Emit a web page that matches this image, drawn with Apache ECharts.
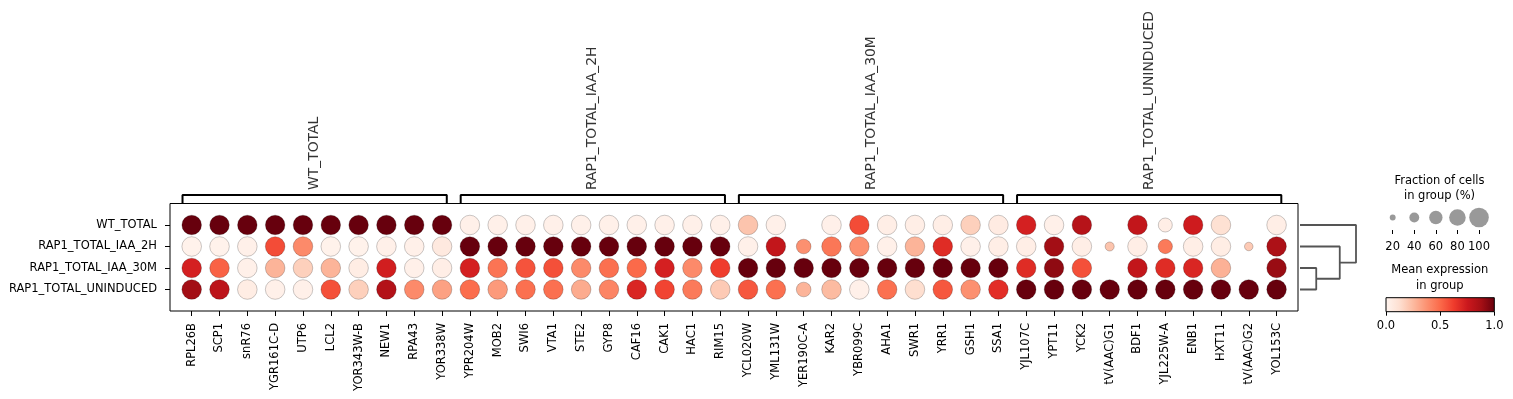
<!DOCTYPE html>
<html>
  <head>
    <meta charset="UTF-8" />
    <title>Dotplot</title>
    <style>
      html, body { margin: 0; padding: 0; background: #fff; }
      #dotplot { width: 1513px; height: 399px; }
    </style>
    <script type="text/javascript" src="https://cdn.jsdelivr.net/npm/echarts@6/dist/echarts.min.js"></script>
  </head>
  <body>
    <div id="dotplot"></div>

    <script>
      var genes = [
        "RPL26B", "SCP1", "snR76", "YGR161C-D", "UTP6", "LCL2", "YOR343W-B", "NEW1", "RPA43", "YOR338W",
        "YPR204W", "MOB2", "SWI6", "VTA1", "STE2", "GYP8", "CAF16", "CAK1", "HAC1", "RIM15",
        "YCL020W", "YML131W", "YER190C-A", "KAR2", "YBR099C", "AHA1", "SWR1", "YRR1", "GSH1", "SSA1",
        "YJL107C", "YPT11", "YCK2", "tV(AAC)G1", "BDF1", "YJL225W-A", "ENB1", "HXT11", "tV(AAC)G2", "YOL153C"
      ];

      var groups = ["WT_TOTAL", "RAP1_TOTAL_IAA_2H", "RAP1_TOTAL_IAA_30M", "RAP1_TOTAL_UNINDUCED"];

      // gene group brackets (first and last column index)
      var groupStart = [0, 10, 20, 30];
      var groupEnd = [9, 19, 29, 39];

      // mean expression in group (0..1), one array per group row
      var exprWT = [1, 1, 1, 1, 1, 1, 1, 1, 1, 1,
        0.03, 0.03, 0.03, 0.03, 0.03, 0.03, 0.03, 0.03, 0.03, 0.03,
        0.22, 0.03, 0, 0.03, 0.58, 0.04, 0.04, 0.04, 0.18, 0.06,
        0.72, 0.03, 0.82, 0, 0.78, 0.04, 0.74, 0.12, 0, 0.04];
      var expr2H = [0.02, 0.02, 0.03, 0.58, 0.4, 0.02, 0.02, 0.03, 0.03, 0.07,
        1, 1, 1, 1, 1, 1, 1, 1, 1, 1,
        0.03, 0.78, 0.38, 0.46, 0.38, 0.03, 0.27, 0.68, 0.03, 0.04,
        0.04, 0.88, 0.04, 0.22, 0.04, 0.45, 0.04, 0.05, 0.2, 0.85];
      var expr30M = [0.72, 0.52, 0.03, 0.27, 0.18, 0.27, 0.05, 0.73, 0.03, 0.04,
        0.72, 0.47, 0.56, 0.57, 0.4, 0.48, 0.5, 0.72, 0.4, 0.62,
        1, 1, 1, 1, 1, 1, 1, 1, 1, 1,
        0.68, 0.92, 0.57, 0, 0.78, 0.68, 0.7, 0.28, 0, 0.9];
      var exprUN = [0.88, 0.8, 0.05, 0.03, 0.03, 0.57, 0.18, 0.83, 0.4, 0.33,
        0.49, 0.35, 0.48, 0.48, 0.3, 0.42, 0.7, 0.6, 0.45, 0.2,
        0.55, 0.48, 0.27, 0.25, 0.03, 0.48, 0.13, 0.55, 0.38, 0.67,
        1, 1, 1, 1, 1, 1, 1, 1, 1, 1];

      // fraction of cells in group expressing the gene (0..1)
      var fracWT = [1, 1, 1, 1, 1, 1, 1, 1, 1, 1,
        1, 1, 1, 1, 1, 1, 1, 1, 1, 1,
        1, 1, 0, 1, 1, 1, 1, 1, 1, 1,
        1, 1, 1, 0, 1, 0.64, 1, 1, 0, 1];
      var frac2H = [1, 1, 1, 1, 1, 1, 1, 1, 1, 1,
        1, 1, 1, 1, 1, 1, 1, 1, 1, 1,
        1, 1, 0.68, 1, 1, 1, 1, 1, 1, 1,
        1, 1, 1, 0.36, 1, 0.66, 1, 1, 0.33, 1];
      var frac30M = [1, 1, 1, 1, 1, 1, 1, 1, 1, 1,
        1, 1, 1, 1, 1, 1, 1, 1, 1, 1,
        1, 1, 1, 1, 1, 1, 1, 1, 1, 1,
        1, 1, 1, 0, 1, 1, 1, 1, 0, 1];
      var fracUN = [1, 1, 1, 1, 1, 1, 1, 1, 1, 1,
        1, 1, 1, 1, 1, 1, 1, 1, 1, 1,
        1, 1, 0.68, 1, 1, 1, 1, 1, 1, 1,
        1, 1, 1, 1, 1, 1, 1, 1, 1, 1];

      // dendrogram of the groups, scipy style: [left, right, height]
      var linkage = [[2, 3, 0.29], [1, 4, 0.71], [0, 5, 1.0]];

      var sizeLegend = [20, 40, 60, 80, 100];
      var colorTicks = [0, 0.5, 1];

      var reds = ["#fff5f0", "#fee0d2", "#fcbba1", "#fc9272", "#fb6a4a", "#ef3b2c", "#cb181d", "#a50f15", "#67000d"];
      var font = "DejaVu Sans";

      function dotSize(f) {
        return 19.6 * Math.pow(f, 0.75);
      }

      var expr = [exprWT, expr2H, expr30M, exprUN];
      var frac = [fracWT, frac2H, frac30M, fracUN];
      var dots = [];
      for (var r = 0; r < groups.length; r++) {
        for (var c = 0; c < genes.length; c++) {
          if (frac[r][c] > 0) dots.push([c, r, expr[r][c], frac[r][c]]);
        }
      }

      // dendrogram segments
      var nodeY = [0, 1, 2, 3];
      var nodeH = [0, 0, 0, 0];
      var dendroSeries = linkage.map(function (l) {
        var a = l[0], b = l[1], h = l[2];
        var seg = [[nodeH[a], nodeY[a]], [h, nodeY[a]], [h, nodeY[b]], [nodeH[b], nodeY[b]]];
        nodeY.push((nodeY[a] + nodeY[b]) / 2);
        nodeH.push(h);
        return {
          type: "line", xAxisIndex: 1, yAxisIndex: 1, data: seg, symbol: "none",
          lineStyle: { color: "#555", width: 1.8 }, silent: true
        };
      });

      var bracketSeries = groupStart.map(function (s, i) {
        var e = groupEnd[i];
        return {
          type: "line", xAxisIndex: 2, yAxisIndex: 2, symbol: "none", silent: true,
          data: [[s - 0.33, 0], [s - 0.33, 1], [e + 0.17, 1], [e + 0.17, 0]],
          lineStyle: { color: "#000", width: 2 }
        };
      });

      var groupLabelData = groupStart.map(function (s, i) {
        return { name: groups[i], value: [(s - 0.33 + groupEnd[i] + 0.17) / 2, 1.6] };
      });

      var gradStops = reds.map(function (col, i) {
        return { offset: i / (reds.length - 1), color: col };
      });

      var cols = [];
      for (var i = 0; i < genes.length; i++) cols.push(i);

      var myChart = echarts.init(document.getElementById("dotplot"), null, { renderer: "canvas" });

      var noZero = { show: false, onZero: false };

      var option = {
        backgroundColor: "#fff",
        animation: false,
        textStyle: { fontFamily: font },
        grid: [
          { left: 170, top: 203.5, width: 1128, height: 107.5, show: true, borderColor: "#000", borderWidth: 1 },
          { left: 1300, top: 203.5, width: 56, height: 107.5 },
          { left: 170, top: 190, width: 1128, height: 13.5 },
          { left: 1381.9, top: 205, width: 107.9, height: 25 },
          {
            left: 1386, top: 297.7, width: 108.3, height: 14, show: true, borderColor: "#000", borderWidth: 1,
            backgroundColor: new echarts.graphic.LinearGradient(0, 0, 1, 0, gradStops)
          }
        ],
        xAxis: [
          {
            gridIndex: 0, type: "value", min: -0.78, max: 39.77, position: "bottom",
            axisLine: noZero, splitLine: { show: false },
            axisTick: { show: true, customValues: cols, length: 5, lineStyle: { color: "#000" } },
            axisLabel: {
              customValues: cols, rotate: 90, margin: 12, fontSize: 11.5, color: "#000", fontFamily: font,
              formatter: function (v) { return genes[Math.round(v)]; }
            }
          },
          { gridIndex: 1, type: "value", min: 0, max: 1, show: false, axisLine: noZero },
          { gridIndex: 2, type: "value", min: -0.78, max: 39.77, show: false, axisLine: noZero },
          {
            gridIndex: 3, type: "value", min: 10, max: 110, position: "bottom",
            axisLine: noZero, splitLine: { show: false },
            axisTick: { show: true, customValues: sizeLegend, length: 4, lineStyle: { color: "#000" } },
            axisLabel: { customValues: sizeLegend, margin: 11, fontSize: 11.5, color: "#000", fontFamily: font }
          },
          {
            gridIndex: 4, type: "value", min: 0, max: 1, position: "bottom",
            axisLine: noZero, splitLine: { show: false },
            axisTick: { show: true, customValues: colorTicks, length: 4, lineStyle: { color: "#000" } },
            axisLabel: {
              customValues: colorTicks, margin: 8, fontSize: 11.5, color: "#000", fontFamily: font,
              formatter: function (v) { return v.toFixed(1); }
            }
          }
        ],
        yAxis: [
          {
            gridIndex: 0, type: "value", inverse: true, min: -1, max: 4, position: "left",
            axisLine: noZero, splitLine: { show: false },
            axisTick: { show: true, customValues: [0, 1, 2, 3], length: 5, lineStyle: { color: "#000" } },
            axisLabel: {
              customValues: [0, 1, 2, 3], margin: 13, fontSize: 11.5, color: "#000", fontFamily: font,
              formatter: function (v) { return groups[Math.round(v)]; }
            }
          },
          { gridIndex: 1, type: "value", inverse: true, min: -1, max: 4, show: false, axisLine: noZero },
          { gridIndex: 2, type: "value", min: 0, max: 1.6, show: false, axisLine: noZero },
          { gridIndex: 3, type: "value", min: 0, max: 1, show: false, axisLine: noZero },
          { gridIndex: 4, type: "value", min: 0, max: 1, show: false, axisLine: noZero }
        ],
        visualMap: {
          show: false, type: "continuous", min: 0, max: 1, dimension: 2, seriesIndex: 0,
          inRange: { color: reds }
        },
        series: [
          {
            type: "scatter", xAxisIndex: 0, yAxisIndex: 0, data: dots, silent: true,
            symbolSize: function (v) { return dotSize(v[3]); },
            itemStyle: { borderColor: "rgba(0,0,0,0.35)", borderWidth: 0.6, opacity: 1 }
          },
          {
            type: "scatter", xAxisIndex: 3, yAxisIndex: 3, silent: true,
            data: sizeLegend.map(function (p) { return [p, 0.5]; }),
            symbolSize: function (v) { return dotSize(v[0] / 100); },
            itemStyle: { color: "#808080" }
          },
          {
            type: "scatter", xAxisIndex: 2, yAxisIndex: 2, silent: true, symbolSize: 0,
            data: groupLabelData,
            label: {
              show: true, position: "inside", rotate: 90, align: "left", verticalAlign: "middle",
              formatter: "{b}", fontSize: 13.9, color: "#000", fontFamily: font
            }
          }
        ].concat(dendroSeries, bracketSeries),
        graphic: [
          {
            type: "text", x: 1439.5, y: 173,
            style: {
              text: "Fraction of cells\nin group (%)", textAlign: "center", fontSize: 11.5,
              lineHeight: 15.5, fill: "#000", fontFamily: font
            }
          },
          {
            type: "text", x: 1439.8, y: 262.5,
            style: {
              text: "Mean expression\nin group", textAlign: "center", fontSize: 11.5,
              lineHeight: 15.5, fill: "#000", fontFamily: font
            }
          }
        ]
      };

      myChart.setOption(option);
    </script>
  </body>
</html>
